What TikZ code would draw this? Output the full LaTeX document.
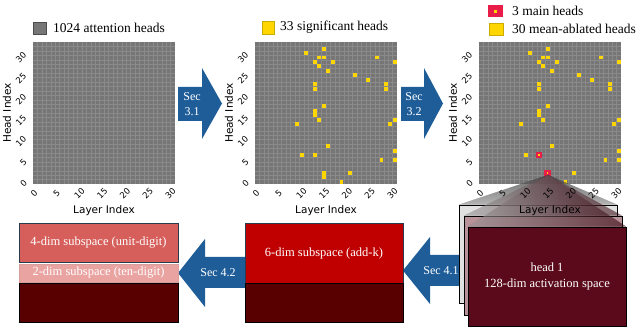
\documentclass[tikz,border=0pt]{standalone}
\usepackage{fontspec}
\setmainfont{Liberation Serif}
\newfontfamily\plotfont{DejaVu Sans}
\definecolor{cellgray}{RGB}{118,118,118}
\definecolor{gridline}{RGB}{138,138,138}
\definecolor{headyel}{RGB}{255,214,0}
\definecolor{mainred}{RGB}{232,30,72}
\definecolor{secblue}{RGB}{31,93,153}
\definecolor{unitred}{RGB}{214,95,91}
\definecolor{tenpink}{RGB}{233,163,161}
\definecolor{darkband}{RGB}{88,0,0}
\definecolor{addred}{RGB}{192,0,0}
\definecolor{headmaroon}{RGB}{90,10,26}
\definecolor{midmauve}{RGB}{185,145,152}
\definecolor{backgray}{RGB}{225,225,225}
\definecolor{boxedge}{RGB}{40,58,80}
\tikzset{
  ticklab/.style={font=\plotfont\fontsize{8.5}{8.5}\selectfont, inner sep=0pt, rotate=45},
  axlab/.style={font=\plotfont\fontsize{10.5}{12}\selectfont, inner sep=0pt},
  legtext/.style={font=\fontsize{13.5}{16}\selectfont, anchor=west, inner sep=0pt},
  sectext/.style={text=white, font=\fontsize{12}{14.5}\selectfont, align=center, inner sep=0pt},
  boxtext/.style={text=white, font=\fontsize{12.5}{16}\selectfont, align=center, inner sep=0pt},
  stackbox/.style={draw=black, line width=0.6pt, inner sep=0pt},
  subbox/.style={draw=boxedge, line width=0.8pt},
  gridln/.style={draw=gridline, line width=0.35pt},
}
\newcommand\cellsz{4.4375}
\newcommand\sigheads{11/29,15/30,14/28,15/28,13/27,17/27,27/28,31/27,14/26,16/25,22/24,25/23,13/22,13/21,29/22,29/21,15/17,13/16,13/15,14/14,9/13,30/13,31/14,16/8,10/6,13/6,31/7,28/5,31/5,15/2,15/1,21/2,19/0}
\newcommand\ablheads{11/29,15/30,14/28,15/28,13/27,17/27,27/28,31/27,14/26,16/25,22/24,25/23,13/22,13/21,29/22,29/21,15/17,13/16,13/15,14/14,9/13,30/13,31/14,16/8,10/6,31/7,28/5,31/5,21/2,19/0}
\newcommand\headgrid[1]{%
  \fill[cellgray] (#1,42) rectangle ({#1+142},184);
  \foreach \i in {1,...,31}{
    \draw[gridln] ({#1+\i*\cellsz},42) -- ({#1+\i*\cellsz},184);
    \draw[gridln] (#1,{184-\i*\cellsz}) -- ({#1+142},{184-\i*\cellsz});
  }
}
\newcommand\markheads[2]{%
  \foreach \la/\hd in #2{
    \fill[headyel] ({#1+\la*\cellsz+0.3},{184-(\hd+1)*\cellsz+0.3}) rectangle ({#1+(\la+1)*\cellsz-0.3},{184-\hd*\cellsz-0.3});
  }
}
\newcommand\mainhead[3]{%
  \fill[mainred] ({#1+(#2+0.5)*\cellsz-3.4},{184-(#3+0.5)*\cellsz-3.0}) rectangle ({#1+(#2+0.5)*\cellsz+3.4},{184-(#3+0.5)*\cellsz+3.0});
  \fill[headyel] ({#1+(#2+0.5)*\cellsz-0.7},{184-(#3+0.5)*\cellsz-0.7}) rectangle ({#1+(#2+0.5)*\cellsz+0.7},{184-(#3+0.5)*\cellsz+0.7});
}
\newcommand\gridlabels[2]{%
  \foreach \t in {0,5,...,30}{
    \node[ticklab] (#2x\t) at ({#1+1+4.55*\t},193.5) {\t};
    \pgfmathsetmacro\yx{\t<10 ? #1-9.5 : #1-12}
    \node[ticklab] (#2y\t) at (\yx,{183.5-4.2*\t}) {\t};
  }
  \node[axlab] (#2xl) at ({#1+71},210.5) {Layer Index};
  \node[axlab, rotate=90] (#2yl) at ({#1-26},113) {Head Index};
}
\begin{document}
\begin{tikzpicture}[x=1pt,y=-1pt]
\useasboundingbox (0,0) rectangle (640,328);
% heatmaps
\headgrid{33}
\headgrid{255}
\headgrid{479}
\markheads{255}{\sigheads}
\markheads{479}{\ablheads}
\mainhead{479}{13}{6}
\mainhead{479}{15}{2}
\mainhead{479}{15}{1}
\gridlabels{33}{ga}
\gridlabels{255}{gb}
% legends
\filldraw[fill=cellgray, draw=gray!60!black, line width=0.4pt] (33,22) rectangle (46,34);
\node[legtext] (leg1) at (53,28) {1024 attention heads};
\filldraw[fill=headyel, draw=headyel!80!black, line width=0.4pt] (262,21) rectangle (274,34);
\node[legtext] (leg2) at (280,27.5) {33 significant heads};
\fill[mainred] (488,5.5) rectangle (503,17);
\fill[headyel] (494.2,9.8) rectangle (496.8,12.7);
\node[legtext] (leg3) at (512,11) {3 main heads};
\filldraw[fill=headyel, draw=headyel!80!black, line width=0.4pt] (489,23) rectangle (503,35);
\node[legtext] (leg4) at (512,29) {30 mean-ablated heads};
% top arrows
\fill[secblue] (178,87) -- (202,87) -- (202,68) -- (222,103.5) -- (202,139) -- (202,121) -- (178,121) -- cycle;
\node[sectext] (s31) at (192,104) {Sec\\3.1};
\fill[secblue] (401,87) -- (424,87) -- (424,68) -- (443,103.5) -- (424,139) -- (424,121) -- (401,121) -- cycle;
\node[sectext] (s32) at (414,104) {Sec\\3.2};
% bottom arrows
\fill[secblue] (245,257) -- (205,257) -- (205,239) -- (178,273) -- (205,307) -- (205,288) -- (245,288) -- cycle;
\node[sectext] (s42) at (218,273) {Sec 4.2};
\fill[secblue] (468,255) -- (430,255) -- (430,237) -- (403,270.5) -- (430,304) -- (430,286) -- (468,286) -- cycle;
\node[sectext] (s41) at (441,270.5) {Sec 4.1};
% left stack
\node[subbox, boxtext, fill=unitred, minimum width=159pt, minimum height=39pt] (unit) at (98.5,242.5) {4-dim subspace (unit-digit)};
\node[boxtext, fill=tenpink, draw=tenpink!85!gray, line width=0.6pt, minimum width=159pt, minimum height=18pt] (ten) at (98.5,273) {2-dim subspace (ten-digit)};
\node[draw=black, line width=0.8pt, fill=darkband, minimum width=159pt, minimum height=39pt] (band1) at (98.5,302.5) {};
% middle stack
\node[subbox, boxtext, fill=addred, minimum width=158pt, minimum height=60pt] (addk) at (324,253) {6-dim subspace (add-k)};
\node[draw=black, line width=0.8pt, fill=darkband, minimum width=158pt, minimum height=39pt] (band2) at (324,302.5) {};
% right stack with projection beams
\coordinate (apex) at (548,175);
\node[stackbox, fill=backgray, minimum width=158pt, minimum height=98pt] (back) at (538,254) {};
\fill[top color=black!65, bottom color=black!8, fill opacity=0.5] (apex) -- (back.north west) -- (back.north east) -- cycle;
\node[stackbox, fill=midmauve, minimum width=158pt, minimum height=99pt] (mid) at (543,265.5) {};
\fill[left color=headmaroon!5, right color=headmaroon, fill opacity=0.35] (apex) -- (mid.north west) -- (mid.north east) -- cycle;
\node[stackbox, boxtext, fill=headmaroon, minimum width=158pt, minimum height=99pt] (front) at (547,276.5) {head 1\\128-dim activation space};
\fill[left color=headmaroon!5, right color=headmaroon, fill opacity=0.4] (apex) -- (front.north west) -- (front.north east) -- cycle;
\gridlabels{479}{gc}
\end{tikzpicture}
\end{document}
